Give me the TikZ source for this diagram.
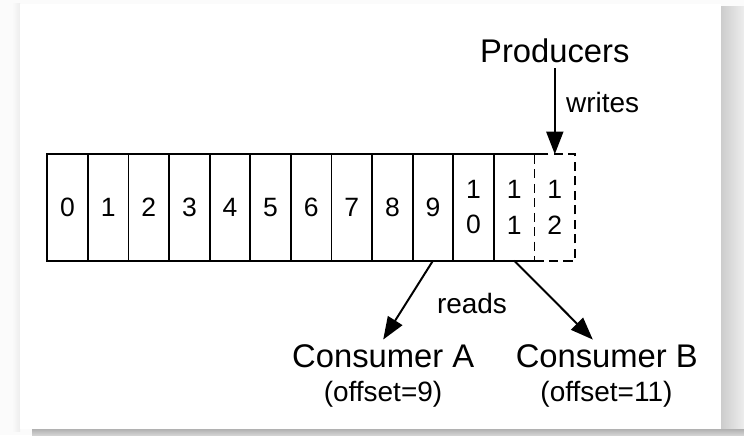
\documentclass[tikz,border=0pt]{standalone}
\usepackage{fontspec}
\setmainfont{Liberation Sans}
\usetikzlibrary{positioning, arrows.meta}

\begin{document}
\begin{tikzpicture}[
    cell/.style={rectangle, draw, line width=1.4pt, minimum width=1.015cm, minimum height=2.66cm,
        inner sep=0pt, outer sep=0pt, align=center, font=\fontsize{18.85}{25}\selectfont},
    opencell/.style={cell, draw=none},
    newcell/.style={cell, dash pattern=on 6.5pt off 3.8pt},
    arrow/.style={-{Triangle[length=16pt, width=12pt]}, line width=1.4pt},
    big/.style={font=\fontsize{23.3}{28}\selectfont},
    small/.style={font=\fontsize{19.9}{24}\selectfont}
]

% === FRAME ===
\useasboundingbox (0,0) rectangle (18.6,10.875);
\fill[gray!3] (0,0) rectangle (18.6,10.875);
\shade[left color=gray!3, right color=gray!14] (0.3,0.1) rectangle (0.5,10.775);
\shade[left color=gray!40, right color=gray!14] (18.0175,0.05) rectangle (18.6,10.7);
\shade[top color=gray!60, bottom color=gray!35] (0.8,0) rectangle (18.6,0.1425);
\fill[white] (0.5,0.1425) rectangle (18.0175,10.775);

% === LOG ===
\node[cell] (c0) at (1.69, 5.69) {0};
\foreach \n [remember=\n as \p (initially 0)] in {1,...,9}
    \node[cell, right=0pt of c\p] (c\n) {\n};
\node[cell, right=0pt of c9] (c10) {1\\0};
\node[opencell, right=0pt of c10] (c11) {1\\1};
\node[newcell, right=0pt of c11] (c12) {1\\2};
\draw[line width=1.4pt] ([xshift=0.25cm]c11.north east) -- (c11.north west)
    (c11.south west) -- (c11.south east);

% Producers
\node[big, above=2.15cm of c12] (prod) {Producers};
\draw[arrow] (prod) -- node[small, right=4pt, pos=0.4] (wr) {writes} (c12);

% Consumers
\node[small, anchor=base] (rd) at (11.8, 3.04) {reads};
\node[big, anchor=base] (consA) at (9.58, 1.69) {Consumer A};
\node[small, anchor=base] (offA) at (9.575, 0.83) {(offset=9)};
\node[big, anchor=base] (consB) at (15.17, 1.69) {Consumer B};
\node[small, anchor=base] (offB) at (15.16, 0.83) {(offset=11)};
\draw[arrow] (c9.south) -- (consA.north);
\draw[arrow] (c11.south) -- ([xshift=-0.35cm]consB.north);

\end{tikzpicture}
\end{document}
